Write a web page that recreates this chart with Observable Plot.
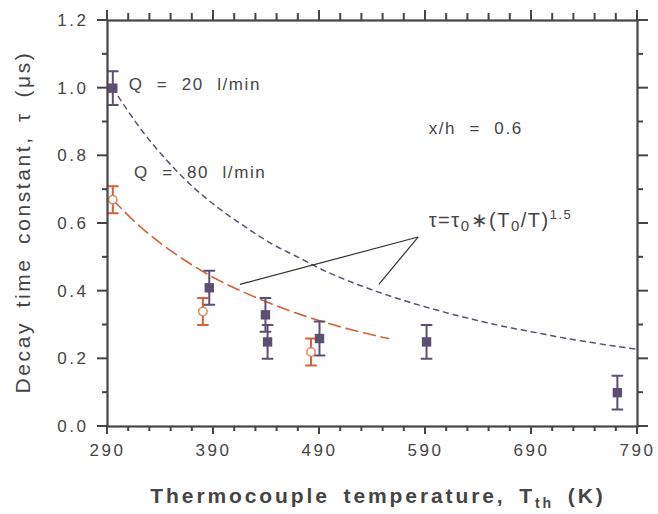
<!DOCTYPE html>
<html>
<head>
<meta charset="utf-8">
<script src="https://cdn.jsdelivr.net/npm/d3@7"></script>
<script src="https://cdn.jsdelivr.net/npm/@observablehq/plot@0.6"></script>
<style>
  html, body { margin: 0; padding: 0; background: #fff; }
  #chart svg { display: block; }
</style>
</head>
<body>
<div id="chart"></div>
<script>
// Q = 20 l/min (filled squares)
const q20T   = [295, 386, 439, 441, 490, 591, 771];
const q20Tau = [1.00, 0.41, 0.33, 0.25, 0.26, 0.25, 0.10];
const q20Err = [0.05, 0.05, 0.05, 0.05, 0.05, 0.05, 0.05];
// Q = 80 l/min (open circles)
const q80T   = [295, 380, 482];
const q80Tau = [0.67, 0.34, 0.22];
const q80Err = [0.04, 0.04, 0.04];
// fitted curves tau = tau0*(T0/T)^1.5
const fit20T   = [295, 320, 345, 370, 395, 420, 445, 470, 495, 520, 545, 570, 595, 620, 645, 670, 695, 720, 745, 770, 790];
const fit20Tau = [1.00, 0.885, 0.79, 0.71, 0.645, 0.59, 0.54, 0.50, 0.46, 0.427, 0.398, 0.372, 0.349, 0.328, 0.309, 0.292, 0.277, 0.262, 0.249, 0.237, 0.228];
const fit80T   = [295, 320, 345, 370, 395, 420, 445, 470, 495, 520, 545, 555];
const fit80Tau = [0.67, 0.593, 0.53, 0.477, 0.432, 0.395, 0.362, 0.333, 0.308, 0.286, 0.267, 0.26];
// annotations
const noteText = ["Q = 20 l/min", "Q = 80 l/min", "x/h = 0.6", "FORMULA"];
const noteT    = [310, 315, 593, 593];
const noteTau  = [1.01, 0.75, 0.88, 0.605];
const arrowT1  = [415, 546];
const arrowTau1 = [0.42, 0.42];
const arrowT2  = [583, 583];
const arrowTau2 = [0.56, 0.56];
// scale domains and ticks
const xDomain = [290, 790];
const yDomain = [0, 1.2];
const xMajor = [290, 390, 490, 590, 690, 790];
const xMinor = [310, 330, 350, 370, 410, 430, 450, 470, 510, 530, 550, 570, 610, 630, 650, 670, 710, 730, 750, 770];
const yMajor = [0, 0.2, 0.4, 0.6, 0.8, 1.0, 1.2];
const yMinor = [0.1, 0.3, 0.5, 0.7, 0.9, 1.1];

const purple = "#5d4f70";
const orange = "#d65f38";
const orangeLight = "#e3845f";
const ink = "#454545";

const q20 = q20T.map((T, i) => ({T, tau: q20Tau[i], lo: q20Tau[i] - q20Err[i], hi: q20Tau[i] + q20Err[i]}));
const q80 = q80T.map((T, i) => ({T, tau: q80Tau[i], lo: q80Tau[i] - q80Err[i], hi: q80Tau[i] + q80Err[i]}));
const fit20 = fit20T.map((T, i) => ({T, tau: fit20Tau[i]}));
const fit80 = fit80T.map((T, i) => ({T, tau: fit80Tau[i]}));
const notes = noteText.map((t, i) => ({t, T: noteT[i], tau: noteTau[i]}));
const arrows = arrowT1.map((T, i) => ({x1: T, y1: arrowTau1[i], x2: arrowT2[i], y2: arrowTau2[i]}));

const lineShape = {draw(context, l) { context.moveTo(0, 0); context.lineTo(0, -l); }};
const caps = (data, key, color) => Plot.vector(data, {x: "T", y: key, length: 10, rotate: 90, anchor: "middle", shape: lineShape, stroke: color, strokeWidth: 2});

const chart = Plot.plot({
  width: 658,
  height: 514,
  marginLeft: 107,
  marginRight: 21,
  marginTop: 20,
  marginBottom: 88,
  style: {fontFamily: "Liberation Sans, Arial, sans-serif", color: ink, background: "#fff"},
  x: {domain: xDomain},
  y: {domain: yDomain},
  marks: [
    // tick labels
    Plot.axisX(xMajor, {anchor: "bottom", tickSize: 0, tickPadding: 17, tickFormat: d => String(d), label: null, fontSize: 17, fill: ink, stroke: "none"}),
    Plot.axisY(yMajor, {anchor: "left", tickSize: 0, tickPadding: 19, tickFormat: d => d.toFixed(1), label: null, fontSize: 17, fill: ink, stroke: "none"}),
    // fits
    Plot.line(fit20, {x: "T", y: "tau", curve: "catmull-rom", stroke: purple, strokeWidth: 1.5, strokeDasharray: "5,5"}),
    Plot.line(fit80, {x: "T", y: "tau", curve: "catmull-rom", stroke: orange, strokeWidth: 1.6, strokeDasharray: "12,6"}),
    // annotation arrows
    Plot.link(arrows, {x1: "x1", y1: "y1", x2: "x2", y2: "y2", stroke: "#333", strokeWidth: 1.2}),
    // error bars
    Plot.ruleX(q20, {x: "T", y1: "lo", y2: "hi", stroke: purple, strokeWidth: 2}),
    caps(q20, "lo", purple), caps(q20, "hi", purple),
    Plot.ruleX(q80, {x: "T", y1: "lo", y2: "hi", stroke: orange, strokeWidth: 2}),
    caps(q80, "lo", orange), caps(q80, "hi", orange),
    // markers
    Plot.dot(q20, {x: "T", y: "tau", symbol: "square", r: 5.3, fill: purple, stroke: "none"}),
    Plot.dot(q80, {x: "T", y: "tau", symbol: "circle", r: 4.2, fill: "#fff", stroke: orangeLight, strokeWidth: 1.5}),
    // notes
    Plot.text(notes, {x: "T", y: "tau", text: "t", textAnchor: "start", fontSize: 17, fill: ink}),
    Plot.frame({stroke: ink, strokeWidth: 2.2})
  ]
});

document.getElementById("chart").appendChild(chart);
const svg = d3.select(chart);

// wide tick label spacing like the original
svg.selectAll('[aria-label="x-axis tick label"] text, [aria-label="y-axis tick label"] text').style("letter-spacing", "2.5px");

svg.selectAll("text").filter(function() { return this.textContent === "Q = 20 l/min" || this.textContent === "Q = 80 l/min" || this.textContent === "x/h = 0.6"; })
  .style("letter-spacing", "1.6px").style("word-spacing", "7px");

// formula with sub/superscripts
svg.selectAll("text").filter(function() { return this.textContent === "FORMULA"; }).each(function() {
  const t = d3.select(this);
  const tnode = t.select("tspan").empty() ? t : t.select("tspan");
  tnode.text("");
  const parts = [["τ=τ", 0, 20], ["0", 4, 15], ["∗(T", -4, 20], ["0", 4, 15], ["/T)", -4, 20], ["1.5", -8, 13]];
  for (const [s, dy, fs] of parts) {
    tnode.append("tspan").attr("dy", dy).attr("font-size", fs).text(s);
  }
  t.style("letter-spacing", "1.5px");
});

// axis labels
const xl = svg.append("text")
  .attr("x", 378).attr("y", 503)
  .attr("text-anchor", "middle")
  .attr("font-family", "Liberation Sans, Arial, sans-serif")
  .attr("font-size", 21).attr("font-weight", "bold")
  .attr("fill", ink)
  .style("letter-spacing", "2.9px").style("word-spacing", "5px");
xl.append("tspan").text("Thermocouple temperature, T");
xl.append("tspan").attr("dy", 5).attr("font-size", 14).text("th");
xl.append("tspan").attr("dy", -5).text(" (K)");

svg.append("text")
  .attr("transform", "translate(30,222) rotate(-90)")
  .attr("text-anchor", "middle")
  .attr("font-family", "Liberation Sans, Arial, sans-serif")
  .attr("font-size", 21)
  .attr("fill", ink)
  .style("letter-spacing", "2.6px").style("word-spacing", "5px")
  .text("Decay time constant, τ (μs)");

// outward tick marks on all four sides, positioned through the chart's own scales
try {
  const sx = chart.scale("x"), sy = chart.scale("y");
  const px = v => sx.apply(v), py = v => sy.apply(v);
  const x0 = px(xDomain[0]), x1 = px(xDomain[1]), y0 = py(yDomain[0]), y1 = py(yDomain[1]);
  const g = svg.append("g").attr("stroke", ink).attr("stroke-width", 2).attr("fill", "none");
  const xt = (vals, len) => {
    vals.forEach(v => {
      g.append("line").attr("x1", px(v)).attr("x2", px(v)).attr("y1", y0).attr("y2", y0 + len);
      g.append("line").attr("x1", px(v)).attr("x2", px(v)).attr("y1", y1).attr("y2", y1 - (len + 2));
    });
  };
  const yt = (vals, lenL, lenR) => {
    vals.forEach(v => {
      g.append("line").attr("y1", py(v)).attr("y2", py(v)).attr("x1", x0).attr("x2", x0 - lenL);
      g.append("line").attr("y1", py(v)).attr("y2", py(v)).attr("x1", x1).attr("x2", x1 + lenR);
    });
  };
  xt(xMajor, 8); xt(xMinor, 5);
  yt(yMajor, 10, 11); yt(yMinor, 5, 6);
} catch (e) {}
</script>
</body>
</html>
